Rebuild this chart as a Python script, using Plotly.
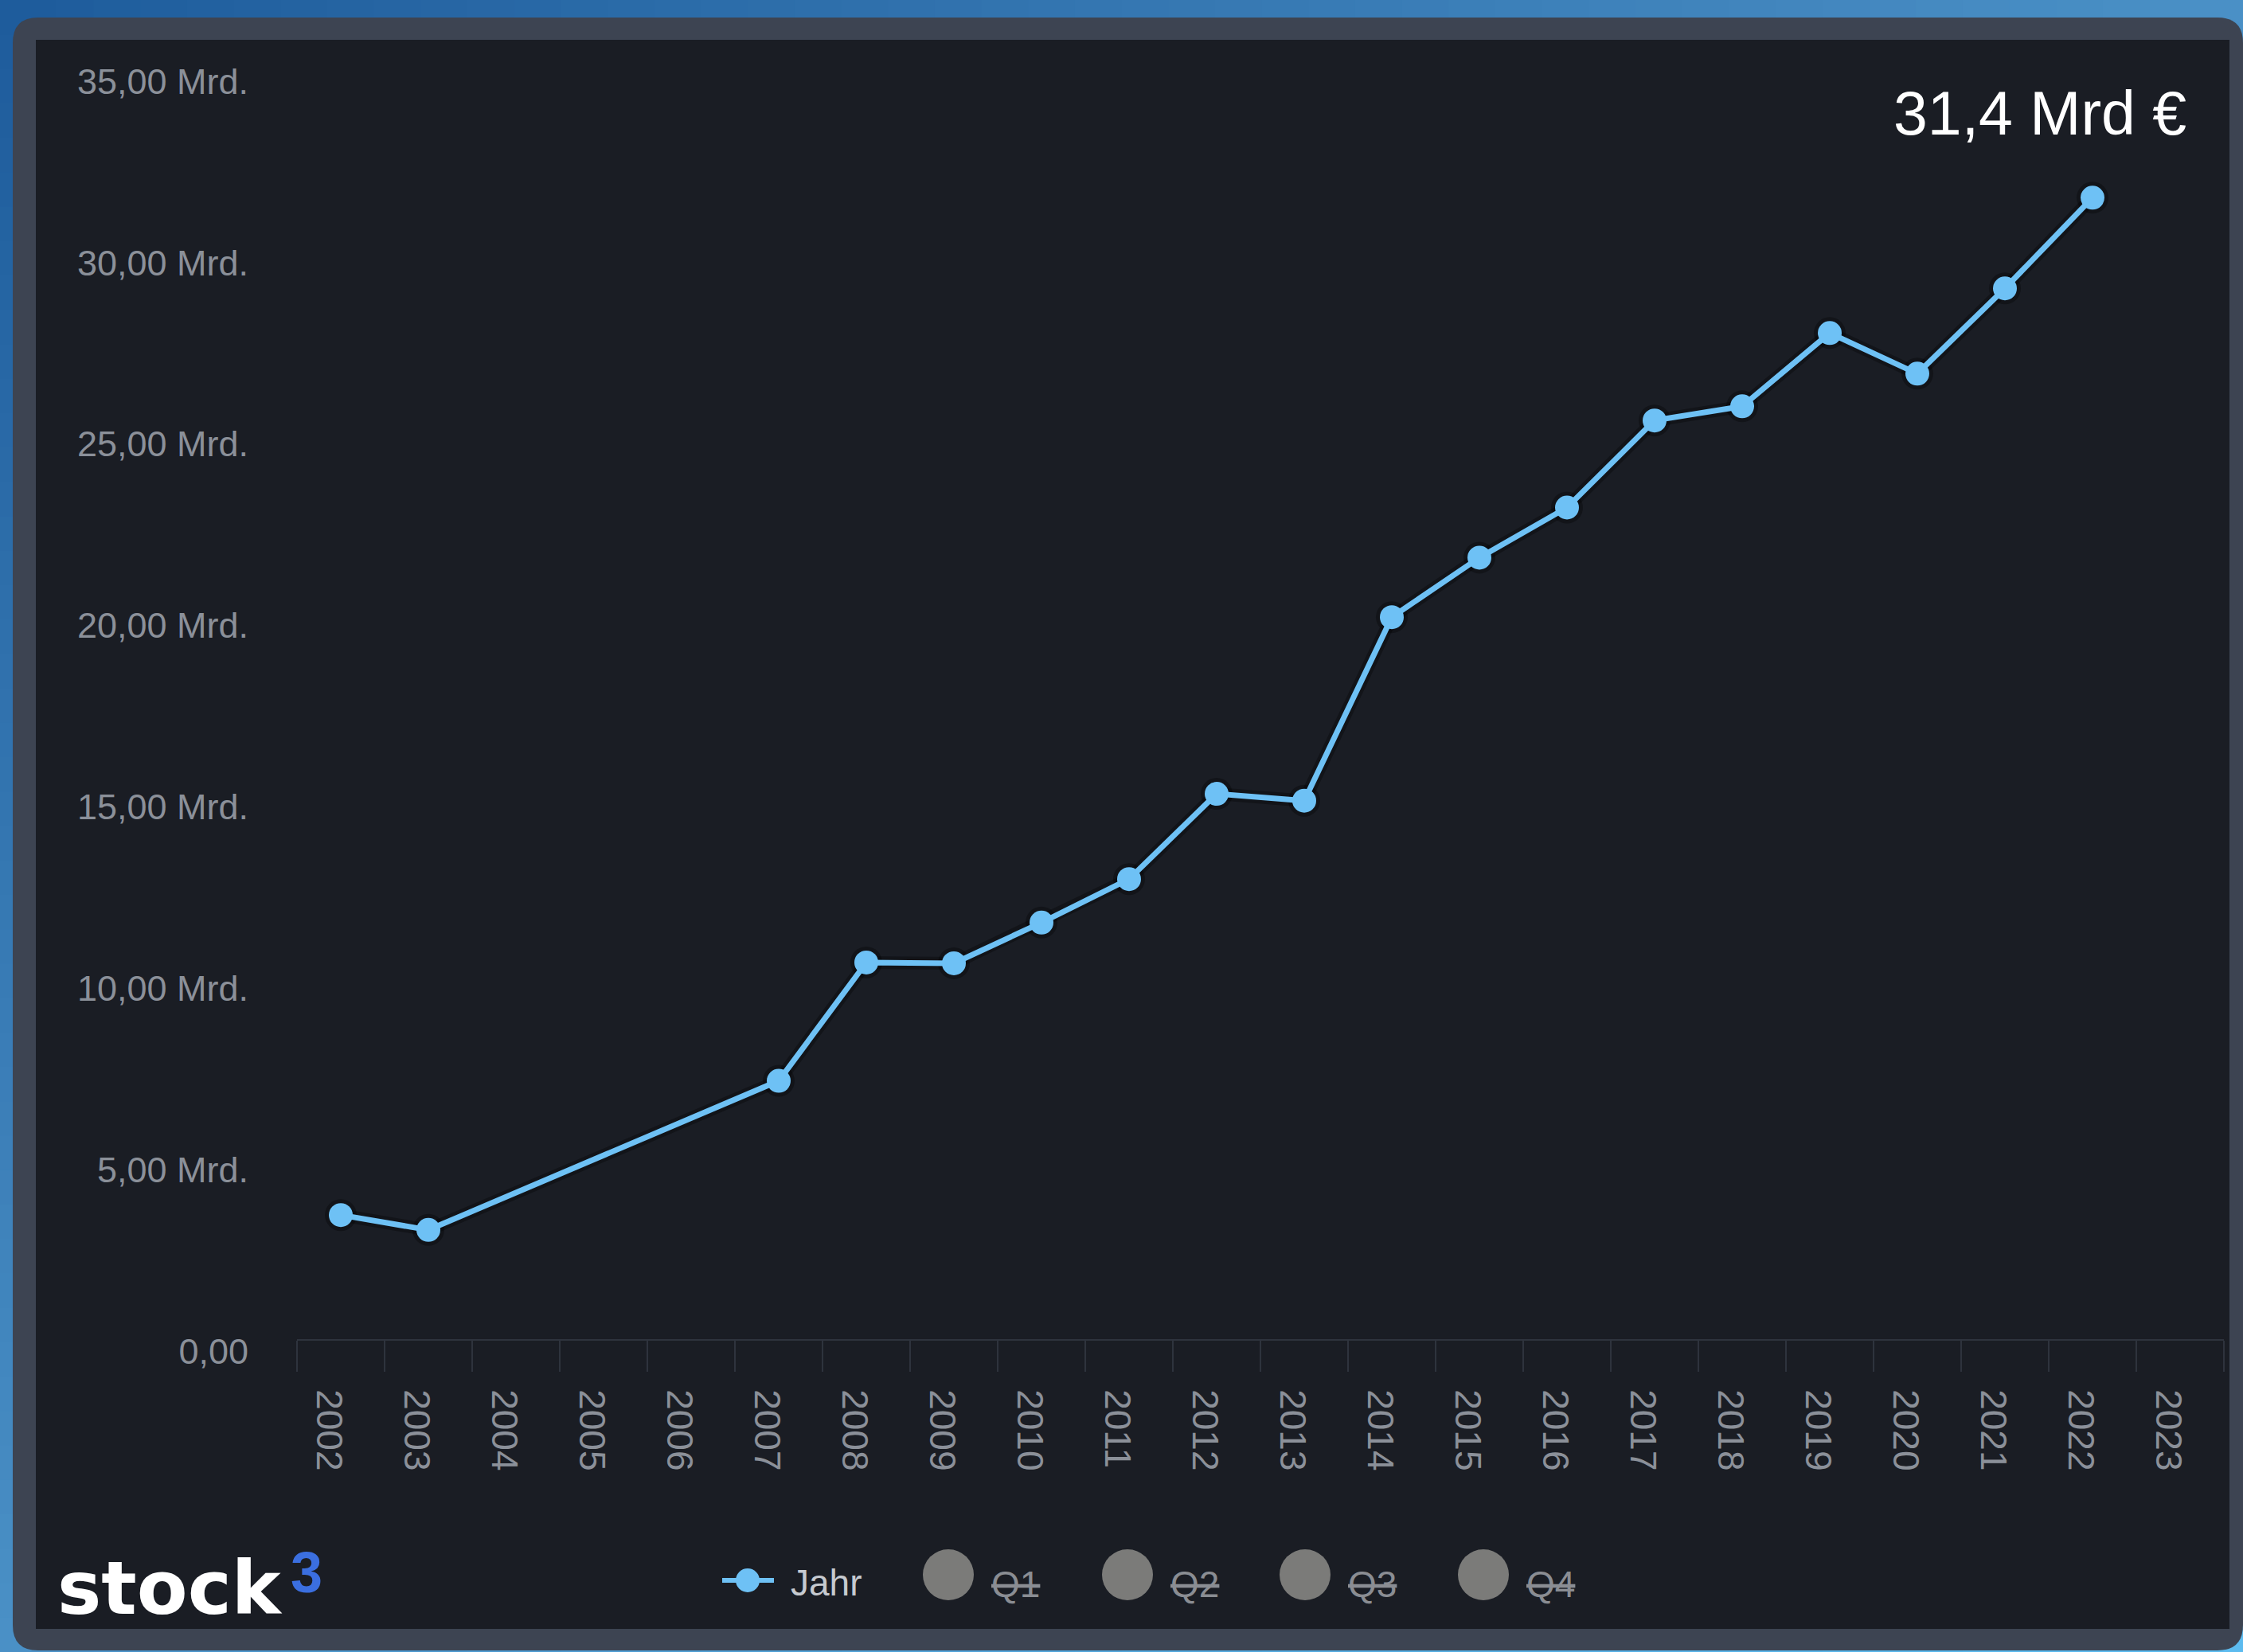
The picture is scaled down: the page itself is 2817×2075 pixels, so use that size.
import plotly.graph_objects as go

# ---------------- data ----------------
years = ["2002", "2003", "2004", "2005", "2006", "2007", "2008", "2009", "2010", "2011", "2012",
         "2013", "2014", "2015", "2016", "2017", "2018", "2019", "2020", "2021", "2022", "2023"]
revenue_bn = [3.42, 3.01, None, None, None, 7.12, 10.38, 10.36, 11.48, 12.68, 15.03,
              14.84, 19.90, 21.54, 22.92, 25.32, 25.71, 27.73, 26.61, 28.96, 31.46, None]
y_tickvals = [0, 5, 10, 15, 20, 25, 30, 35]
y_ticktext = ["0,00", "5,00 Mrd.", "10,00 Mrd.", "15,00 Mrd.", "20,00 Mrd.",
              "25,00 Mrd.", "30,00 Mrd.", "35,00 Mrd."]
series_name = "Jahr"
hidden_series = ["Q1", "Q2", "Q3", "Q4"]
headline = "31,4 Mrd €"

# ---------------- geometry helpers (pixels -> paper) ----------------
W, H = 2817, 2075


def px(x):
    return x / W


def py(y):
    return 1 - y / H


LINE_BLUE = "#6ec1f5"
PANEL = "#3d4452"
INNER = "#1a1d24"
TICK_GRAY = "#8b9099"
AXIS_GRAY = "#2e333d"

shapes = []

# background gradient strips (diagonal blue gradient)
stops = [(0.0, (29, 91, 155)), (0.5, (74, 144, 198)), (1.0, (92, 188, 240))]


def grad(t):
    t = max(0.0, min(1.0, t))
    for (t0, c0), (t1, c1) in zip(stops[:-1], stops[1:]):
        if t <= t1:
            f = (t - t0) / (t1 - t0)
            return "rgb(%d,%d,%d)" % tuple(round(a + (b - a) * f) for a, b in zip(c0, c1))
    return "rgb(%d,%d,%d)" % stops[-1][1]


N = 48
for i in range(N):
    xa, xb = W * i / N, W * (i + 1) / N + 1
    xc = (xa + xb) / 2
    shapes.append(dict(type="rect", xref="paper", yref="paper", layer="below",
                       x0=px(xa), x1=px(xb), y0=py(70), y1=py(0),
                       fillcolor=grad((xc / W + 30 / H) / 2), line=dict(width=0)))
    shapes.append(dict(type="rect", xref="paper", yref="paper", layer="below",
                       x0=px(xa), x1=px(xb), y0=py(H), y1=py(2010),
                       fillcolor=grad((xc / W + 2060 / H) / 2), line=dict(width=0)))
for j in range(N):
    ya, yb = H * j / N, H * (j + 1) / N + 1
    yc = (ya + yb) / 2
    shapes.append(dict(type="rect", xref="paper", yref="paper", layer="below",
                       x0=px(0), x1=px(70), y0=py(yb), y1=py(ya),
                       fillcolor=grad((20 / W + yc / H) / 2), line=dict(width=0)))
    shapes.append(dict(type="rect", xref="paper", yref="paper", layer="below",
                       x0=px(2750), x1=px(W), y0=py(yb), y1=py(ya),
                       fillcolor=grad((2800 / W + yc / H) / 2), line=dict(width=0)))


def rounded_rect(x0, y0, x1, y1, r):
    def P(x, y):
        return "%.6f,%.6f" % (px(x), py(y))
    return ("M " + P(x0 + r, y0) + " L " + P(x1 - r, y0) + " Q " + P(x1, y0) + " " + P(x1, y0 + r) +
            " L " + P(x1, y1 - r) + " Q " + P(x1, y1) + " " + P(x1 - r, y1) +
            " L " + P(x0 + r, y1) + " Q " + P(x0, y1) + " " + P(x0, y1 - r) +
            " L " + P(x0, y0 + r) + " Q " + P(x0, y0) + " " + P(x0 + r, y0) + " Z")


shapes.append(dict(type="path", xref="paper", yref="paper", layer="below",
                   path=rounded_rect(16, 22, 2817, 2073, 32),
                   fillcolor=PANEL, line=dict(width=0)))
shapes.append(dict(type="rect", xref="paper", yref="paper", layer="below",
                   x0=px(45), x1=px(2800), y0=py(2046), y1=py(50),
                   fillcolor=INNER, line=dict(width=0)))

# ---------------- manual legend ----------------
annotations = []
legend_y = 1985
shapes.append(dict(type="line", xref="paper", yref="paper",
                   x0=px(907), x1=px(972), y0=py(legend_y), y1=py(legend_y),
                   line=dict(color=LINE_BLUE, width=6)))
shapes.append(dict(type="circle", xref="paper", yref="paper",
                   x0=px(939 - 15), x1=px(939 + 15), y0=py(legend_y + 15), y1=py(legend_y - 15),
                   fillcolor=LINE_BLUE, line=dict(width=0)))
annotations.append(dict(text=series_name, xref="paper", yref="paper", x=px(991), y=py(1988),
                        xanchor="left", yanchor="middle", showarrow=False,
                        font=dict(family="Liberation Sans, Arial, sans-serif", size=46, color="#c6cad0")))

q_centers = [1191, 1416, 1639, 1863]
for name, cx in zip(hidden_series, q_centers):
    r = 32
    shapes.append(dict(type="circle", xref="paper", yref="paper",
                       x0=px(cx - r), x1=px(cx + r), y0=py(1978 + r), y1=py(1978 - r),
                       fillcolor="#7b7b79", line=dict(width=0)))
    annotations.append(dict(text="<s>" + name + "</s>", xref="paper", yref="paper",
                            x=px(cx + 52), y=py(1990), xanchor="left", yanchor="middle",
                            showarrow=False,
                            font=dict(family="Liberation Sans, Arial, sans-serif", size=46,
                                      color="#8a8d93")))

annotations.append(dict(text=headline, xref="paper", yref="paper", x=px(2748), y=py(142),
                        xanchor="right", yanchor="middle", showarrow=False,
                        font=dict(family="Liberation Sans, Arial, sans-serif", size=77, color="#ffffff")))

annotations.append(dict(text="stock", xref="paper", yref="paper", x=px(70), y=py(1995),
                        xanchor="left", yanchor="middle", showarrow=False,
                        font=dict(family="DejaVu Sans, sans-serif", size=93, color="#ffffff",
                                  weight="bold")))
annotations.append(dict(text="3", xref="paper", yref="paper", x=px(385), y=py(1975),
                        xanchor="center", yanchor="middle", showarrow=False,
                        font=dict(family="Liberation Sans, Arial, sans-serif", size=72, color="#3b6fe0",
                                  weight="bold")))

# ---------------- traces ----------------
fig = go.Figure()
fig.add_trace(go.Scatter(x=years, y=revenue_bn, mode="lines+markers", connectgaps=True,
                         line=dict(color="rgba(0,0,0,0.3)", width=16),
                         marker=dict(size=40, color="rgba(0,0,0,0.3)"),
                         hoverinfo="skip", showlegend=False))
fig.add_trace(go.Scatter(x=years, y=revenue_bn, mode="lines+markers", connectgaps=True,
                         name=series_name,
                         line=dict(color=LINE_BLUE, width=7),
                         marker=dict(size=30, color=LINE_BLUE, line=dict(width=0))))

fig.update_layout(
    width=W, height=H, autosize=False,
    margin=dict(l=0, r=0, t=0, b=0, pad=0),
    paper_bgcolor=grad(0.5), plot_bgcolor=INNER,
    showlegend=False,
    shapes=shapes, annotations=annotations,
    font=dict(family="Liberation Sans, Arial, sans-serif"),
    xaxis=dict(domain=[px(373), px(2793)], type="category",
               categoryorder="array", categoryarray=years,
               range=[-0.5, len(years) - 0.5], tickmode="linear", tick0=0, dtick=1,
               tickson="boundaries", ticks="outside", ticklen=39, tickwidth=2, tickcolor=AXIS_GRAY,
               showline=True, linecolor=AXIS_GRAY, linewidth=2,
               showgrid=False, zeroline=False, tickangle=90,
               tickfont=dict(size=46, color=TICK_GRAY),
               ticklabelstandoff=52, ticklabelshift=-15, automargin=False, fixedrange=True),
    yaxis=dict(domain=[py(1682), py(87)], range=[0, 35],
               tickmode="array", tickvals=y_tickvals, ticktext=y_ticktext,
               ticks="", showline=False, showgrid=False, zeroline=False,
               tickfont=dict(size=45, color=TICK_GRAY),
               ticklabelstandoff=60, ticklabelshift=15, automargin=False, fixedrange=True),
)

fig.write_html("out.html", include_plotlyjs=True, full_html=True,
               config={"displayModeBar": False},
               post_script="document.body.style.margin='0';document.body.style.overflow='hidden';")
